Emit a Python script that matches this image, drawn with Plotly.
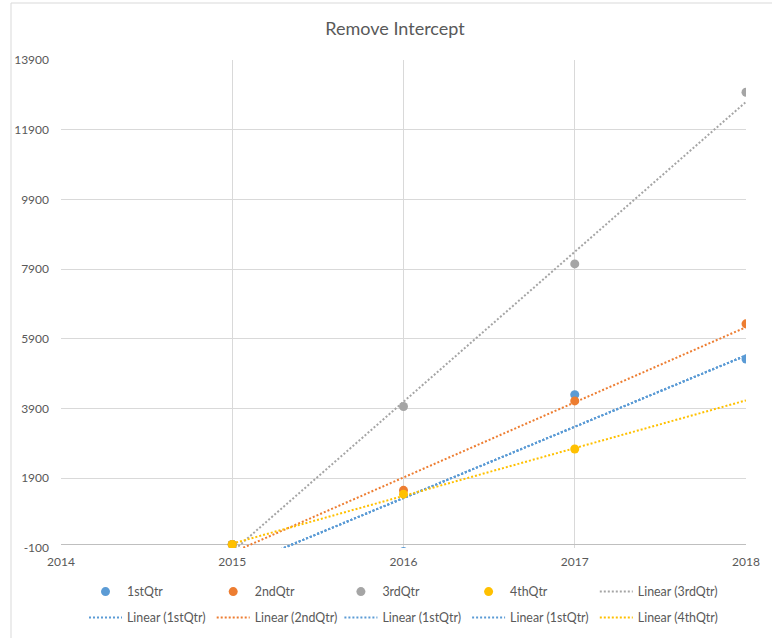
import numpy as np
import plotly.graph_objects as go

# ---- data ----
years = [2015, 2016, 2017, 2018]
q1 = [0, -200, 4300, 5320]
q2 = [0, 1555, 4120, 6330]
q3 = [0, 3960, 8050, 12975]
q4 = [0, 1445, 2740, None]

series_names = ["1stQtr", "2ndQtr", "3rdQtr", "4thQtr"]
series_values = [q1, q2, q3, q4]
colors = ["#5B9BD5", "#ED7D31", "#A5A5A5", "#FFC000"]

# trendline legend entries as they appear
trend_row1 = [2]              # Linear (3rdQtr)
trend_row2 = [0, 1, 0, 0, 3]  # Linear (1stQtr), (2ndQtr), (1stQtr), (1stQtr), (4thQtr)

y_ticks = [-100, 1900, 3900, 5900, 7900, 9900, 11900, 13900]
x_ticks = [2014, 2015, 2016, 2017, 2018]

FONT = "Lato"
TXT = "#595959"
GRID = "#D9D9D9"


def trend(idx):
    vals = series_values[idx]
    xs = np.array([x for x, v in zip(years, vals) if v is not None], float)
    ys = np.array([v for v in vals if v is not None], float)
    m, b = np.polyfit(xs, ys, 1)
    xx = np.array(years, float)
    return xx, m * xx + b


fig = go.Figure()

trend_traces = []
for i in trend_row1:
    trend_traces.append((i, "legend", 5))
for k, i in enumerate(trend_row2):
    trend_traces.append((i, "legend2", 10 + k))

for i, leg, rk in trend_traces:
    xx, yy = trend(i)
    fig.add_trace(go.Scatter(
        x=xx, y=yy, mode="lines",
        name="Linear (%s)" % series_names[i],
        line=dict(color=colors[i], width=2, dash="2px,2px"),
        legend=leg, legendrank=rk, hoverinfo="skip",
    ))

for k, (nm, vals, c) in enumerate(zip(series_names, series_values, colors)):
    fig.add_trace(go.Scatter(
        x=years, y=vals, mode="markers", name=nm,
        marker=dict(color=c, size=9, line=dict(width=0)),
        legend="legend", legendrank=k + 1,
    ))

L, R, T, B = 61, 26, 60, 90
W, H = 772, 638
pw, ph = W - L - R, H - T - B

legend_common = dict(
    orientation="h", xanchor="left", yanchor="middle",
    xref="container", yref="container",
    font=dict(family=FONT, size=12.4, color=TXT),
    entrywidth=79.7, entrywidthmode="pixels", itemwidth=33,
    bgcolor="rgba(0,0,0,0)", traceorder="normal",
)

fig.update_layout(
    width=W, height=H,
    margin=dict(l=L, r=R, t=T, b=B, autoexpand=False),
    paper_bgcolor="white", plot_bgcolor="white",
    font=dict(family=FONT, size=12, color=TXT),
    title=dict(text="Remove Intercept", x=395 / W, xanchor="center",
               xref="container", y=1 - 29 / H, yanchor="middle",
               font=dict(family=FONT, size=18, color=TXT)),
    legend=dict(x=84 / W, y=1 - 592 / H, **legend_common),
    legend2=dict(x=84 / W, y=1 - 618 / H, **legend_common),
    xaxis=dict(range=[2014, 2018], tickvals=x_ticks, ticktext=[str(v) for v in x_ticks],
               showgrid=True, gridcolor=GRID, gridwidth=1, zeroline=False,
               showline=False, ticks="", ticklabelstandoff=5,
               tickfont=dict(family=FONT, size=12, color=TXT)),
    yaxis=dict(range=[-100, 13900], tickvals=y_ticks, ticktext=[str(v) for v in y_ticks],
               showgrid=True, gridcolor=GRID, gridwidth=1,
               zeroline=True, zerolinecolor="#BFBFBF", zerolinewidth=1,
               showline=False, ticks="", ticklabelstandoff=11,
               tickfont=dict(family=FONT, size=12, color=TXT)),
    shapes=[dict(type="rect", xref="paper", yref="paper",
                 x0=(11 - L) / pw, x1=(W + 20 - L) / pw,
                 y0=-(H + 20 - (H - B)) / ph, y1=((H - B) - 3) / ph,
                 line=dict(color=GRID, width=1), fillcolor="rgba(0,0,0,0)", layer="below")],
    showlegend=True,
)

fig.write_html("out.html", config={"displayModeBar": False},
               post_script="document.body.style.margin='0';document.body.style.overflow='hidden';")
